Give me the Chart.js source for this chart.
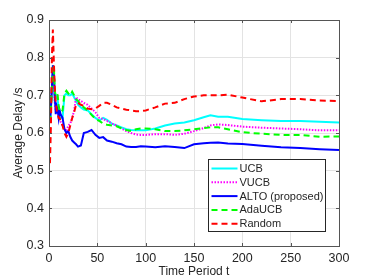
<!DOCTYPE html>
<html>
<head>
<meta charset="utf-8">
<script src="https://cdn.jsdelivr.net/npm/chart.js@4"></script>
<style>
  html, body { margin: 0; padding: 0; background: #fff; }
  #wrap { width: 374px; height: 280px; }
</style>
</head>
<body>
<div id="wrap"><canvas id="delayChart" width="374" height="280"></canvas></div>
<script>
// time periods shared by all series
const periods = [1,2,3,4,5,6,7,8,9,10,11,12,14,16,18,20,22,24,26,28,30,33,36,40,44,48,52,56,60,65,70,75,80,85,90,95,100,110,120,130,140,150,160,167,175,185,200,220,240,260,280,300];

const ucb = [0.63,0.66,0.72,0.77,0.74,0.68,0.70,0.70,0.69,0.66,0.65,0.64,0.64,0.70,0.705,0.70,0.70,0.705,0.695,0.685,0.675,0.668,0.662,0.66,0.65,0.64,0.633,0.64,0.635,0.625,0.62,0.615,0.61,0.608,0.607,0.607,0.607,0.612,0.62,0.625,0.628,0.634,0.642,0.647,0.643,0.643,0.637,0.634,0.632,0.632,0.63,0.628];
const vucb = [0.64,0.68,0.73,0.76,0.73,0.68,0.66,0.67,0.66,0.65,0.64,0.63,0.62,0.61,0.605,0.62,0.625,0.64,0.66,0.695,0.69,0.685,0.68,0.675,0.665,0.655,0.64,0.637,0.632,0.625,0.62,0.612,0.605,0.60,0.596,0.595,0.595,0.597,0.597,0.595,0.598,0.605,0.613,0.62,0.623,0.621,0.617,0.614,0.612,0.61,0.607,0.607];
const alto = [0.63,0.67,0.72,0.78,0.76,0.70,0.65,0.67,0.66,0.64,0.66,0.65,0.64,0.61,0.60,0.605,0.59,0.58,0.575,0.57,0.564,0.567,0.60,0.603,0.608,0.595,0.587,0.589,0.58,0.577,0.573,0.57,0.564,0.563,0.563,0.565,0.564,0.562,0.565,0.563,0.56,0.57,0.573,0.574,0.575,0.572,0.571,0.566,0.562,0.56,0.557,0.555];
const adaucb = [0.63,0.66,0.72,0.76,0.78,0.71,0.70,0.705,0.70,0.67,0.66,0.655,0.66,0.705,0.712,0.705,0.70,0.71,0.70,0.69,0.685,0.675,0.668,0.66,0.648,0.638,0.632,0.625,0.622,0.62,0.618,0.612,0.608,0.605,0.61,0.612,0.612,0.61,0.605,0.605,0.607,0.61,0.613,0.615,0.615,0.61,0.602,0.598,0.595,0.595,0.59,0.591];
const random = [0.52,0.62,0.80,0.875,0.79,0.72,0.68,0.66,0.65,0.64,0.64,0.63,0.62,0.60,0.59,0.60,0.62,0.64,0.655,0.675,0.68,0.675,0.672,0.665,0.663,0.665,0.672,0.68,0.68,0.675,0.668,0.665,0.662,0.66,0.658,0.658,0.66,0.668,0.678,0.68,0.69,0.697,0.70,0.70,0.70,0.702,0.694,0.684,0.69,0.69,0.686,0.685];

const seriesNames = ['UCB', 'VUCB', 'ALTO (proposed)', 'AdaUCB', 'Random'];
const xTicks = [0, 50, 100, 150, 200, 250, 300];
const yTicks = [0.3, 0.4, 0.5, 0.6, 0.7, 0.8, 0.9];

const styles = [
  { color: '#00ffff', dash: [] },
  { color: '#ff00ff', dash: [1.5, 1.5] },
  { color: '#0000ff', dash: [] },
  { color: '#00ff00', dash: [6, 4] },
  { color: '#ff0000', dash: [6, 4] }
];
const allValues = [ucb, vucb, alto, adaucb, random];

function toPoints(vals) {
  return periods.map((t, i) => ({ x: t, y: vals[i] }));
}

const datasets = allValues.map((vals, i) => ({
  label: seriesNames[i],
  data: toPoints(vals),
  borderColor: styles[i].color,
  borderDash: styles[i].dash,
  borderWidth: 2,
  pointRadius: 0,
  tension: 0,
  fill: false,
  order: 5 - i  // later series drawn on top, like matlab
}));

const axisColor = '#262626';

// box round the plot, inward ticks and the legend
const matlabBox = {
  id: 'matlabBox',
  afterDatasetsDraw(chart) {
    const ctx = chart.ctx;
    const a = chart.chartArea;
    const xs = chart.scales.x, ys = chart.scales.y;
    ctx.save();
    ctx.strokeStyle = '#555';
    ctx.lineWidth = 1;
    ctx.setLineDash([]);
    ctx.strokeRect(Math.round(a.left) + 0.5, Math.round(a.top) + 0.5,
                   Math.round(a.right - a.left), Math.round(a.bottom - a.top));
    ctx.beginPath();
    xTicks.forEach(v => {
      const px = Math.round(xs.getPixelForValue(v)) + 0.5;
      ctx.moveTo(px, a.bottom); ctx.lineTo(px, a.bottom - 3);
      ctx.moveTo(px, a.top); ctx.lineTo(px, a.top + 3);
    });
    yTicks.forEach(v => {
      const py = Math.round(ys.getPixelForValue(v)) + 0.5;
      ctx.moveTo(a.left, py); ctx.lineTo(a.left + 3, py);
      ctx.moveTo(a.right, py); ctx.lineTo(a.right - 3, py);
    });
    ctx.stroke();

    // legend
    const w = 117, h = 72;
    const lx = Math.round(a.right - 14 - w) + 0.5;
    const ly = Math.round(a.bottom - 15 - h) + 0.5;
    ctx.fillStyle = '#fff';
    ctx.fillRect(lx, ly, w, h);
    ctx.strokeStyle = axisColor;
    ctx.strokeRect(lx, ly, w, h);
    ctx.font = '11px "Liberation Sans", Arial, sans-serif';
    ctx.textBaseline = 'middle';
    ctx.fillStyle = axisColor;
    seriesNames.forEach((name, i) => {
      const yy = ly + 9 + i * 13.8;
      ctx.beginPath();
      ctx.strokeStyle = styles[i].color;
      ctx.lineWidth = 2;
      ctx.setLineDash(styles[i].dash);
      ctx.moveTo(lx + 3, yy);
      ctx.lineTo(lx + 29, yy);
      ctx.stroke();
      ctx.fillText(name, lx + 31, yy + 0.5);
    });
    ctx.restore();
  }
};

const ctx = document.getElementById('delayChart').getContext('2d');
new Chart(ctx, {
  type: 'line',
  data: { datasets: datasets },
  options: {
    responsive: false,
    animation: false,
    layout: { padding: { top: 20, right: 35, left: 0, bottom: 0 } },
    plugins: { legend: { display: false }, tooltip: { enabled: false } },
    scales: {
      x: {
        type: 'linear',
        min: 0, max: 300,
        afterBuildTicks(scale) { scale.ticks = xTicks.map(v => ({ value: v })); },
        afterFit(scale) { scale.height = 34; },
        grid: { color: '#e3e3e3', drawTicks: false },
        border: { color: '#555' },
        ticks: { color: axisColor, padding: 5, maxRotation: 0,
                 font: { family: '"Liberation Sans", Arial, sans-serif', size: 12.5 } },
        title: { display: true, text: 'Time Period t', color: axisColor, padding: { top: 0, bottom: 1 },
                 font: { family: '"Liberation Sans", Arial, sans-serif', size: 12 } }
      },
      y: {
        type: 'linear',
        min: 0.3, max: 0.9,
        afterBuildTicks(scale) { scale.ticks = yTicks.map(v => ({ value: v })); },
        afterFit(scale) { scale.width = 49; },
        grid: { color: '#e3e3e3', drawTicks: false },
        border: { color: '#555' },
        ticks: { color: axisColor, padding: 5,
                 callback: v => v.toFixed(1),
                 font: { family: '"Liberation Sans", Arial, sans-serif', size: 12.5 } },
        title: { display: true, text: 'Average Delay /s', color: axisColor, padding: { top: 11, bottom: 0 },
                 font: { family: '"Liberation Sans", Arial, sans-serif', size: 12 } }
      }
    }
  },
  plugins: [matlabBox]
});
</script>
</body>
</html>
